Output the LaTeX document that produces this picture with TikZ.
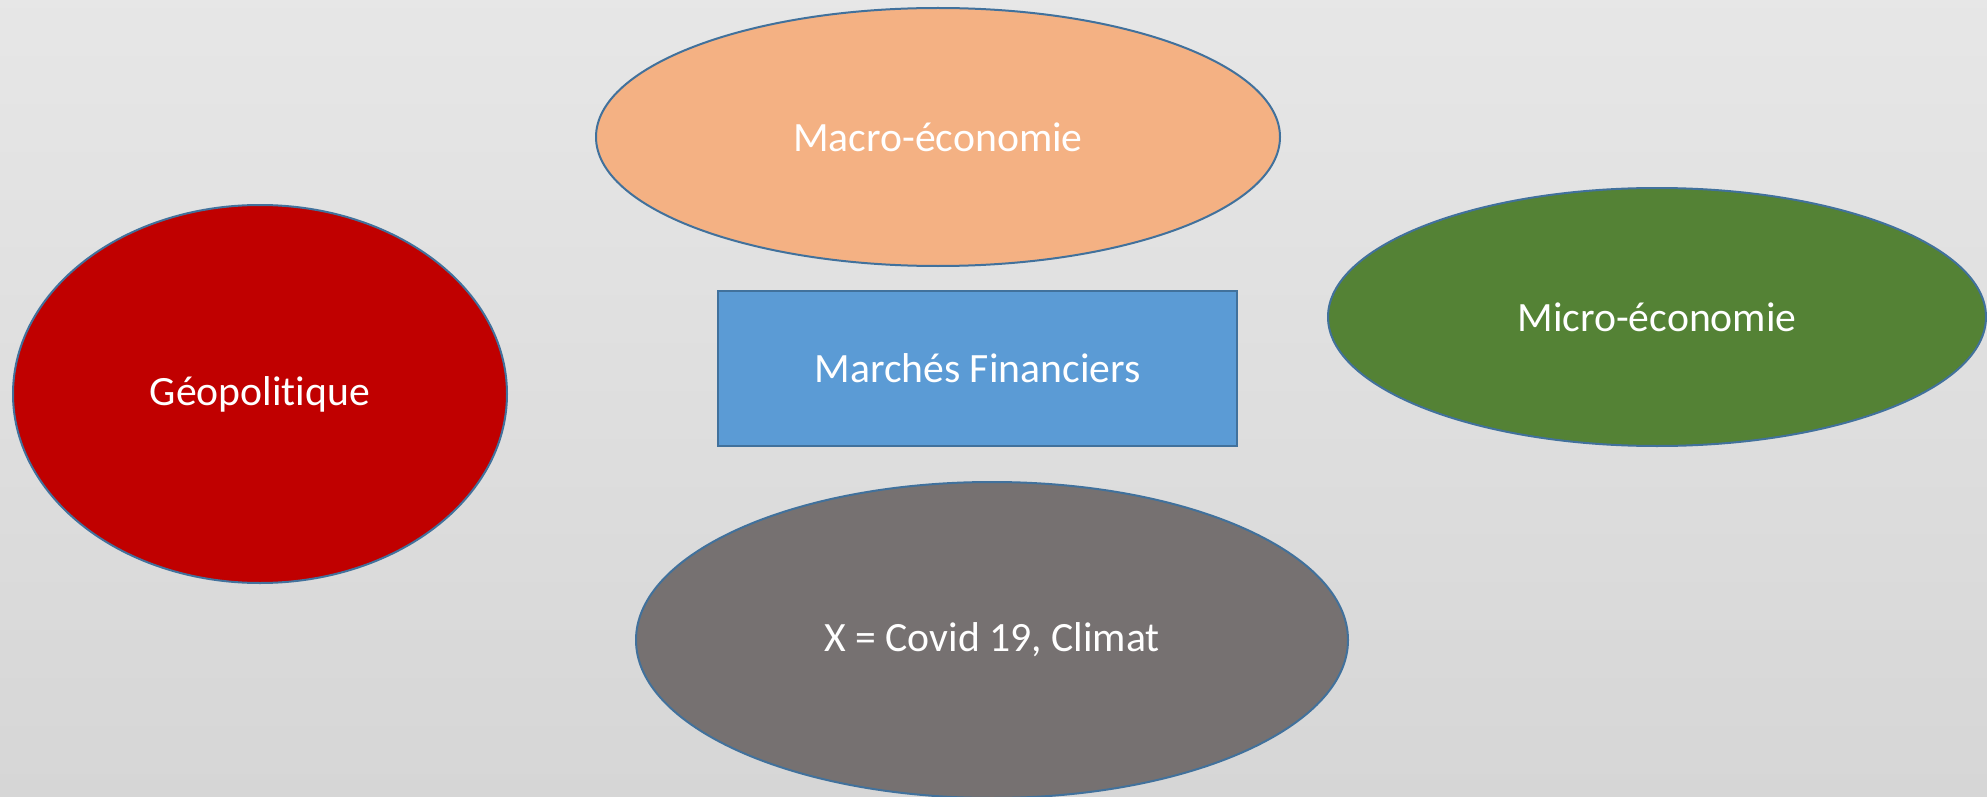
\documentclass[tikz,border=0pt]{standalone}
\usepackage{fontspec}
\setmainfont{Carlito}[Ligatures={NoCommon}]
\usetikzlibrary{shapes.geometric}
\definecolor{bgtop}{HTML}{EFEFEF}
\definecolor{bgmid}{HTML}{D6D6D6}
\definecolor{bgbot}{HTML}{DCDCDC}
\definecolor{outl}{HTML}{41719C}
\definecolor{macroc}{HTML}{F4B183}
\definecolor{geoc}{HTML}{C00000}
\definecolor{microc}{HTML}{548235}
\definecolor{marchc}{HTML}{5B9BD5}
\definecolor{covidc}{HTML}{767171}
\pgfdeclareverticalshading{bgshade}{100bp}{color(0bp)=(bgbot); color(25bp)=(bgmid); color(100bp)=(bgtop)}
\begin{document}
\begin{tikzpicture}[x=1pt,y=-1pt,
  lbl/.style={text=white,font=\fontsize{41.7}{50}\selectfont,inner sep=0pt},
  oval/.style={lbl,ellipse,draw=outl,line width=2pt},
  boxnode/.style={lbl,rectangle,draw=outl,line width=2pt}]
\useasboundingbox (0,0) rectangle (1987,797);
\clip (0,0) rectangle (1987,797);
\path[shading=bgshade] (0,0) rectangle (1987,797);
\node[oval,fill=macroc,minimum width=684pt,minimum height=258pt] (macro) at (938,137) {Macro-économie};
\node[oval,fill=geoc,minimum width=494pt,minimum height=378pt] (geo) at (260,394) {Géopolitique};
\node[oval,fill=microc,minimum width=658pt,minimum height=258pt] (micro) at (1657,317) {Micro-économie};
\node[boxnode,fill=marchc,minimum width=519pt,minimum height=155pt] (march) at (977.5,368.5) {Marchés Financiers};
\node[oval,fill=covidc,minimum width=712pt,minimum height=316pt] (covid) at (992,640) {X = Covid 19, Climat};
\end{tikzpicture}
\end{document}
